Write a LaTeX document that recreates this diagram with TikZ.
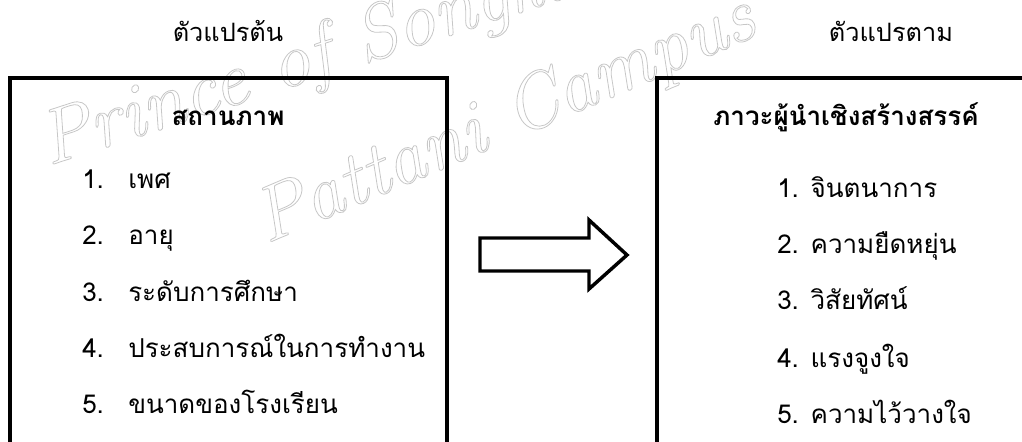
\documentclass[tikz,border=0pt]{standalone}
\usepackage{fontspec}
\newfontfamily\thai[Script=Thai]{Loma}
\begin{document}
\begin{tikzpicture}[x=0.75pt,y=-0.75pt,
  title/.style={font=\thai\fontsize{19}{21}\selectfont, anchor=base, inner sep=0pt},
  head/.style={font=\thai\bfseries\fontsize{19.5}{21}\selectfont, anchor=base, inner sep=0pt},
  item/.style={font=\thai\fontsize{19.5}{21}\selectfont, anchor=base west, inner sep=0pt},
  frame/.style={line width=2.4pt, line join=miter},
  wm/.style={font=\itshape\fontsize{58}{58}\selectfont, text=black!22, anchor=base west, inner sep=0pt}]
\useasboundingbox (0,0) rectangle (1022,442);
% watermark
\node[wm, rotate=18] (wm1) at (48,166) {\special{pdf:literal direct 1 Tr 0.6 w}Prince of Songkla University\special{pdf:literal direct 0 Tr}};
\node[wm, rotate=23] (wm2) at (266,244) {\special{pdf:literal direct 1 Tr 0.6 w}Pattani Campus\special{pdf:literal direct 0 Tr}};
% titles
\node[title] (t1) at (228,42) {ตัวแปรต้น};
\node[title] (t2) at (891,42) {ตัวแปรตาม};
% boxes
\draw[frame] (10,442) -- (10,78) -- (447,78) -- (447,442);
\draw[frame] (657,442) -- (657,78) -- (1024,78);
% headings
\node[head] (h1) at (228,126) {สถานภาพ};
\node[head] (h2) at (846,126) {ภาวะผู้นำเชิงสร้างสรรค์};
% left items
\foreach \n/\txt/\y in {1/เพศ/189, 2/อายุ/245, 3/ระดับการศึกษา/301, 4/ประสบการณ์ในการทำงาน/357, 5/ขนาดของโรงเรียน/413}{
  \node[item] (ln\n) at (82,\y) {\n.};
  \node[item] (l\n) at (128,\y) {\txt};
}
% right items
\foreach \n/\txt/\y in {1/จินตนาการ/198, 2/ความยืดหยุ่น/254, 3/วิสัยทัศน์/310, 4/แรงจูงใจ/367, 5/ความไว้วางใจ/423}{
  \node[item] (r\n) at (777,\y) {\n. \txt};
}
% block arrow
\draw[line width=2.6pt, line join=miter, fill=white] (480,238) -- (589,238) -- (589,220) -- (627,255) -- (589,289) -- (589,271) -- (480,271) -- cycle;
\end{tikzpicture}
\end{document}
